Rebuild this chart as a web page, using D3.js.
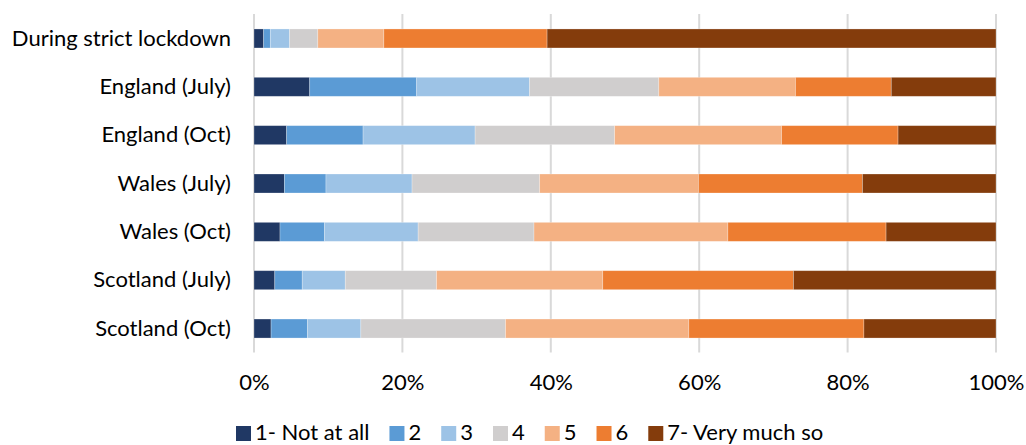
<!DOCTYPE html>
<html>
<head>
<meta charset="utf-8">
<script src="https://cdn.jsdelivr.net/npm/d3@7"></script>
<style>
  html, body { margin: 0; padding: 0; background: #fff; }
  svg text { font-family: Lato, "Liberation Sans", sans-serif; fill: #000; }
</style>
</head>
<body>
<svg id="chart" width="1026" height="445"></svg>
<script>
const categories = ["During strict lockdown", "England (July)", "England (Oct)", "Wales (July)", "Wales (Oct)", "Scotland (July)", "Scotland (Oct)"];
const seriesNames = ["1- Not at all", "2", "3", "4", "5", "6", "7- Very much so"];
const seriesColors = ["#203864", "#5B9BD5", "#9DC3E6", "#D0CECE", "#F4B183", "#ED7D31", "#843C0C"];
// percentages per category, in series order 1..7
const s1 = [1.3, 7.5, 4.4, 4.1, 3.5, 2.8, 2.3];
const s2 = [0.9, 14.4, 10.3, 5.6, 6.0, 3.7, 4.9];
const s3 = [2.6, 15.2, 15.1, 11.6, 12.6, 5.8, 7.2];
const s4 = [3.8, 17.4, 18.8, 17.2, 15.6, 12.3, 19.5];
const s5 = [8.9, 18.4, 22.5, 21.4, 26.1, 22.4, 24.7];
const s6 = [22.0, 12.9, 15.7, 22.1, 21.3, 25.7, 23.6];
const s7 = [60.5, 14.1, 13.2, 18.0, 14.8, 27.3, 17.8];
const tickValues = [0, 0.2, 0.4, 0.6, 0.8, 1.0];

const seriesValues = [s1, s2, s3, s4, s5, s6, s7];
const rows = categories.map((c, i) => {
  const r = { category: c };
  seriesNames.forEach((s, j) => r[s] = seriesValues[j][i]);
  return r;
});
// normalize to 100%
const normRows = rows.map(r => {
  const tot = d3.sum(seriesNames, s => r[s]);
  const o = { category: r.category };
  seriesNames.forEach(s => o[s] = r[s] / tot);
  return o;
});
const stacked = d3.stack().keys(seriesNames)(normRows);

const FONT = "Lato, 'Liberation Sans', sans-serif";
const FS = "22px";

const svg = d3.select("#chart");
const x = d3.scaleLinear().domain([0, 1]).range([254, 996]);
const y = d3.scaleBand().domain(categories).range([14.3, 352.7]).paddingInner(0.607).paddingOuter(0.3035);

// gridlines
svg.append("g")
  .selectAll("line")
  .data(tickValues)
  .join("line")
  .attr("x1", d => x(d)).attr("x2", d => x(d))
  .attr("y1", 14).attr("y2", 352.5)
  .attr("stroke", "#d9d9d9")
  .attr("stroke-width", 2);

// bars
svg.append("g")
  .selectAll("g")
  .data(stacked)
  .join("g")
  .attr("fill", (d, i) => seriesColors[i])
  .selectAll("rect")
  .data(d => d)
  .join("rect")
  .attr("x", d => x(d[0]))
  .attr("width", d => x(d[1]) - x(d[0]))
  .attr("y", d => y(d.data.category))
  .attr("height", y.bandwidth())
  .attr("stroke", "#ffffff")
  .attr("stroke-opacity", 0.35)
  .attr("stroke-width", 0.75);

// category labels
const yAxis = d3.axisLeft(y).tickSize(0).tickPadding(0);
const gy = svg.append("g").attr("transform", "translate(231,0)").call(yAxis);
gy.select(".domain").remove();
gy.selectAll("text").attr("font-size", FS).attr("font-family", FONT).attr("fill", "#000");

// x tick labels
const xAxis = d3.axisBottom(x).tickValues(tickValues).tickFormat(d3.format(".0%")).tickSize(0).tickPadding(0);
const gx = svg.append("g").attr("transform", "translate(0,374)").call(xAxis);
gx.select(".domain").remove();
gx.selectAll("text").attr("font-size", FS).attr("font-family", FONT).attr("fill", "#000").attr("dy", "0.72em");

// legend
const legend = svg.append("g").attr("class", "legend");
let lx = 236;
seriesNames.forEach((name, i) => {
  const g = legend.append("g").attr("transform", `translate(${lx},0)`);
  g.append("rect").attr("x", 0).attr("y", 426).attr("width", 15).attr("height", 15).attr("fill", seriesColors[i]);
  const t = g.append("text").attr("x", 19).attr("y", 440).attr("font-size", FS).attr("font-family", FONT).text(name);
  const w = t.node().getComputedTextLength();
  lx += 19 + w + 20;
});
</script>
</body>
</html>
